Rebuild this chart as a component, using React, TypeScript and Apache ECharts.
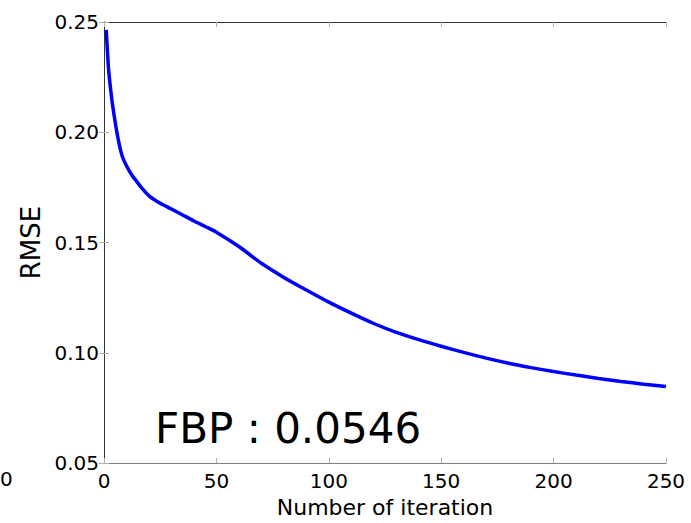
import React, { useEffect, useRef } from "react";
import * as echarts from "echarts";

const iterations = [1, 2, 3, 4, 6, 8, 10, 12, 14, 17, 20, 25, 30, 35, 40, 45, 50, 60, 70, 80, 90, 100, 110, 120, 130, 140, 150, 160, 170, 180, 190, 200, 210, 220, 230, 240, 250];
const rmse = [0.2464, 0.2290, 0.2190, 0.2110, 0.1985, 0.1895, 0.1848, 0.1812, 0.1784, 0.1745, 0.1712, 0.1678, 0.1652, 0.1625, 0.1598, 0.1573, 0.1547, 0.1482, 0.1406, 0.1342, 0.1285, 0.1230, 0.1180, 0.1133, 0.1093, 0.1060, 0.1030, 0.1002, 0.0976, 0.0953, 0.0933, 0.0915, 0.0899, 0.0884, 0.0870, 0.0858, 0.0847];
const xTicks = [0, 50, 100, 150, 200, 250];
const yTicks = [0.05, 0.1, 0.15, 0.2, 0.25];
const annotation = "FBP : 0.0546";
const xTitle = "Number of iteration";
const yTitle = "RMSE";

const FONT = "DejaVu Sans";

export default function App() {
  const ref = useRef<HTMLDivElement>(null);
  useEffect(() => {
    if (!ref.current) return;
    const chart = echarts.init(ref.current, undefined, { renderer: "svg" });
    const data = iterations.map((x, i) => [x, rmse[i]]);
    const tickStyle = { show: true, inside: true, length: 5, lineStyle: { color: "#b0b0b0", width: 1 } };
    chart.setOption({
      animation: false,
      backgroundColor: "#ffffff",
      grid: { left: 104, right: 25, top: 22, bottom: 59, containLabel: false },
      xAxis: [
        {
          type: "value",
          min: xTicks[0],
          max: xTicks[xTicks.length - 1],
          interval: 50,
          name: xTitle,
          nameLocation: "middle",
          nameGap: 32,
          nameTextStyle: { fontFamily: FONT, fontSize: 22, color: "#000" },
          axisLine: { show: true, lineStyle: { color: "#808080", width: 1 } },
          axisTick: tickStyle,
          axisLabel: { fontFamily: FONT, fontSize: 20, color: "#000", margin: 8 },
          splitLine: { show: false },
        },
        {
          type: "value",
          position: "top",
          min: xTicks[0],
          max: xTicks[xTicks.length - 1],
          interval: 50,
          axisLine: { show: true, lineStyle: { color: "#333", width: 1 } },
          axisTick: tickStyle,
          axisLabel: { show: false },
          splitLine: { show: false },
        },
      ],
      yAxis: [
        {
          type: "value",
          min: yTicks[0],
          max: yTicks[yTicks.length - 1],
          interval: 0.05,
          name: yTitle,
          nameLocation: "middle",
          nameGap: 56,
          nameTextStyle: { fontFamily: FONT, fontSize: 26, color: "#000" },
          axisLine: { show: true, lineStyle: { color: "#808080", width: 1 } },
          axisTick: tickStyle,
          axisLabel: {
            fontFamily: FONT,
            fontSize: 20,
            color: "#000",
            margin: 5,
            formatter: (v: number) => v.toFixed(2),
          },
          splitLine: { show: false },
        },
        {
          type: "value",
          position: "right",
          min: yTicks[0],
          max: yTicks[yTicks.length - 1],
          interval: 0.05,
          axisLine: { show: true, lineStyle: { color: "#333", width: 1 } },
          axisTick: tickStyle,
          axisLabel: { show: false },
          splitLine: { show: false },
        },
      ],
      series: [
        {
          type: "line",
          data,
          xAxisIndex: 0,
          yAxisIndex: 0,
          showSymbol: false,
          smooth: 0.25,
          lineStyle: { color: "#0000ff", width: 3.5 },
          silent: true,
        },
      ],
      graphic: [
        {
          type: "text",
          left: 155,
          top: 407,
          style: { text: annotation, font: `42px '${FONT}'`, fill: "#000" },
        },
        {
          type: "text",
          left: 0,
          top: 469,
          style: { text: "0", font: `20px '${FONT}'`, fill: "#000" },
        },
      ],
    });
    return () => chart.dispose();
  }, []);
  return (
    <div
      ref={ref}
      style={{ position: "fixed", left: 0, top: 0, width: 691, height: 523, background: "#fff" }}
    />
  );
}
